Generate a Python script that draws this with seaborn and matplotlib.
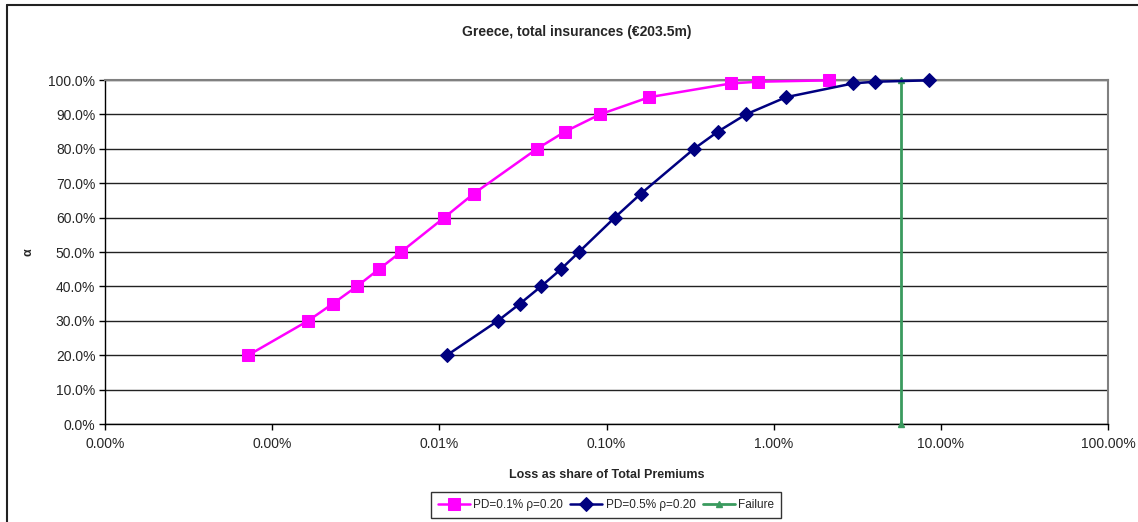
import numpy as np
import pandas as pd
import matplotlib
matplotlib.use("Agg")
import matplotlib.pyplot as plt
import matplotlib.ticker as mticker
from matplotlib.lines import Line2D
import seaborn as sns

alpha = [0.20, 0.30, 0.35, 0.40, 0.45, 0.50, 0.60, 0.67, 0.80, 0.85, 0.90, 0.95, 0.99, 0.995, 0.999]
loss_pd01 = [7.2e-6, 1.64e-5, 2.31e-5, 3.21e-5, 4.35e-5, 5.9e-5, 1.07e-4, 1.61e-4,
             3.84e-4, 5.65e-4, 9.14e-4, 1.80e-3, 5.56e-3, 8.05e-3, 2.14e-2]
loss_pd05 = [1.11e-4, 2.24e-4, 3.04e-4, 4.06e-4, 5.34e-4, 6.84e-4, 1.12e-3, 1.61e-3,
             3.34e-3, 4.64e-3, 6.82e-3, 1.186e-2, 2.98e-2, 4.04e-2, 8.49e-2]
failure_x = [0.0578, 0.0578]
failure_y = [0.0, 1.0]
x_ticks = [1e-6, 1e-5, 1e-4, 1e-3, 1e-2, 1e-1, 1.0]

df = pd.concat([
    pd.DataFrame({'loss': loss_pd01, 'alpha': alpha, 'series': 'PD=0.1% \u03c1=0.20'}),
    pd.DataFrame({'loss': loss_pd05, 'alpha': alpha, 'series': 'PD=0.5% \u03c1=0.20'}),
])

sns.set_style("white")
plt.rcParams['font.family'] = ['Liberation Sans', 'DejaVu Sans']

fig = plt.figure(figsize=(11.38, 5.22), dpi=100)
ax = fig.add_axes([105/1138, 98/522, 1003/1138, 344/522])

sns.lineplot(data=df[df['series'] == 'PD=0.1% \u03c1=0.20'], x='loss', y='alpha', ax=ax,
             color='#ff00ff', marker='s', markersize=8.5, markeredgecolor='#ff00ff',
             linewidth=1.8, label='PD=0.1% \u03c1=0.20', sort=False, clip_on=False, zorder=4)
sns.lineplot(data=df[df['series'] == 'PD=0.5% \u03c1=0.20'], x='loss', y='alpha', ax=ax,
             color='#000080', marker='D', markersize=7, markeredgecolor='#000080',
             linewidth=1.8, label='PD=0.5% \u03c1=0.20', sort=False, clip_on=False, zorder=4)
ax.plot(failure_x, failure_y, color='#3a9a5e', marker='^', markersize=4,
        linewidth=2, label='Failure', clip_on=False, zorder=3)

ax.set_xscale('log')
ax.set_xlim(1e-6, 1.0)
ax.set_ylim(0, 1.0)
ax.set_yticks(np.arange(0, 1.01, 0.1))
ax.yaxis.set_major_formatter(mticker.FuncFormatter(lambda v, p: f"{v*100:.1f}%"))
ax.xaxis.set_major_locator(mticker.FixedLocator(x_ticks))
ax.xaxis.set_minor_locator(mticker.NullLocator())
ax.xaxis.set_major_formatter(mticker.FuncFormatter(lambda v, p: f"{v*100:.2f}%"))
ax.tick_params(axis='both', labelsize=10, direction='out', length=4, width=1,
               color='black', bottom=True, left=True, pad=3)
ax.tick_params(axis='x', pad=5)

ax.grid(axis='y', color='#222222', linewidth=1)
ax.set_axisbelow(True)
for side in ['left', 'bottom']:
    ax.spines[side].set_color('black')
    ax.spines[side].set_linewidth(1)
for side in ['top', 'right']:
    ax.spines[side].set_color('#808080')
    ax.spines[side].set_linewidth(1.5)

ax.set_xlabel('Loss as share of Total Premiums', fontsize=9, fontweight='bold', labelpad=13)
ax.set_ylabel('\u03b1', fontsize=9, fontweight='bold', labelpad=10)
fig.text(577/1138, 1 - 32/522, 'Greece, total insurances (\u20ac203.5m)',
         ha='center', va='center', fontsize=10, fontweight='bold')

ax.get_legend().remove()
handles, labels = ax.get_legend_handles_labels()
leg = fig.legend(handles, labels, loc='center', bbox_to_anchor=(606/1138, 1 - 505/522),
                 ncol=3, fontsize=8.5, frameon=True, fancybox=False, borderpad=0.6,
                 handlelength=2.7, columnspacing=0.6, handletextpad=0.3, borderaxespad=0)
leg.get_frame().set_edgecolor('black')
leg.get_frame().set_linewidth(1)

# outer chart frame (top and left edges visible)
fig.add_artist(Line2D([7/1138, 1.0], [1 - 5/522, 1 - 5/522], color='#222222', linewidth=1.5))
fig.add_artist(Line2D([7/1138, 7/1138], [0, 1 - 5/522], color='#222222', linewidth=1.5))

fig.savefig('out.png', dpi=100)
